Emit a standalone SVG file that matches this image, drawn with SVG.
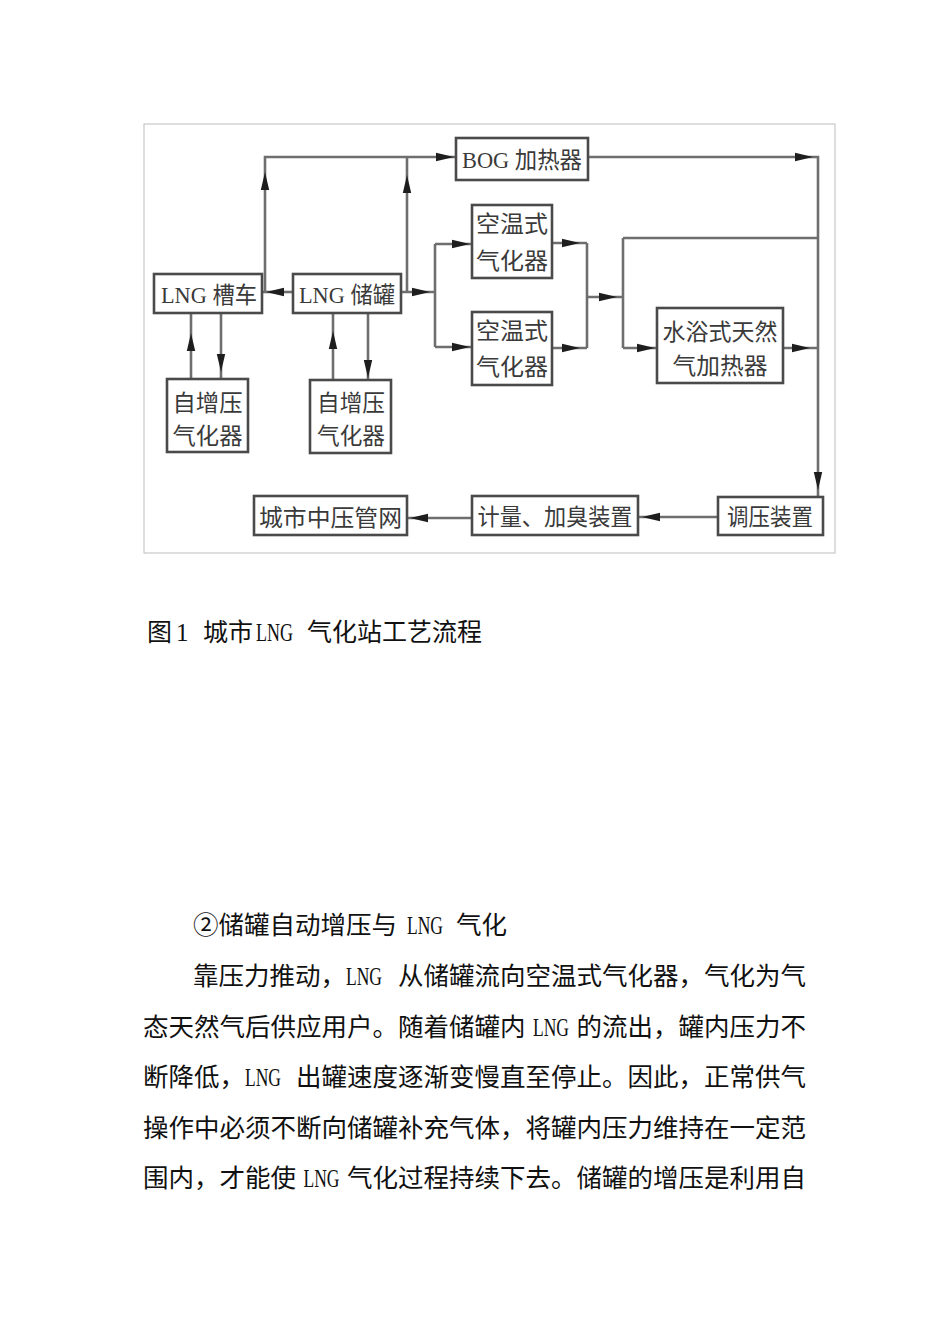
<svg xmlns="http://www.w3.org/2000/svg" xmlns:xlink="http://www.w3.org/1999/xlink" width="950" height="1344" viewBox="0 0 950 1344">
<style>
.box{fill:#fff;stroke:#4a4a4a;stroke-width:2.6}
.ln{fill:none;stroke:#6e6e6e;stroke-width:2.6}
.ah{fill:#1e1e1e}
.dt{font-family:"Liberation Serif","Noto Sans CJK SC",serif;font-size:23px;fill:#3a3a3a;text-anchor:middle}
.bt{font-family:"Noto Sans CJK SC",sans-serif;font-size:25.5px;fill:#111}
.lat{font-family:"Liberation Serif",serif;font-size:25.5px;fill:#111}
</style>
<defs>
<path id="ah" d="M0,0 L-18,-4.2 L-18,4.2 Z"/>
</defs>
<rect x="0" y="0" width="950" height="1344" fill="#fff"/>
<rect x="144" y="124" width="691" height="429" fill="none" stroke="#c8c8c8" stroke-width="1.2"/>

<g id="connectors">
<polyline class="ln" points="265,292 265,157 455,157"/>
<line class="ln" x1="407" y1="292" x2="407" y2="157"/>
<line class="ln" x1="293" y1="292" x2="262" y2="292"/>
<line class="ln" x1="401" y1="292" x2="435" y2="292"/>
<line class="ln" x1="435" y1="244" x2="435" y2="347"/>
<line class="ln" x1="435" y1="244" x2="472" y2="244"/>
<line class="ln" x1="435" y1="347" x2="472" y2="347"/>
<line class="ln" x1="552" y1="243" x2="587" y2="243"/>
<line class="ln" x1="552" y1="348" x2="587" y2="348"/>
<line class="ln" x1="587" y1="243" x2="587" y2="348"/>
<line class="ln" x1="587" y1="297" x2="623" y2="297"/>
<line class="ln" x1="623" y1="238" x2="623" y2="348"/>
<line class="ln" x1="623" y1="238" x2="818" y2="238"/>
<line class="ln" x1="623" y1="348" x2="657" y2="348"/>
<line class="ln" x1="783" y1="348" x2="818" y2="348"/>
<polyline class="ln" points="588,157 818,157 818,497"/>
<line class="ln" x1="718" y1="517" x2="638" y2="517"/>
<line class="ln" x1="472" y1="518" x2="407" y2="518"/>
<line class="ln" x1="191" y1="379" x2="191" y2="313"/>
<line class="ln" x1="221" y1="313" x2="221" y2="379"/>
<line class="ln" x1="333" y1="380" x2="333" y2="313"/>
<line class="ln" x1="368" y1="313" x2="368" y2="380"/>
<g class="ah">
<use xlink:href="#ah" transform="translate(265,172) rotate(-90)"/>
<use xlink:href="#ah" transform="translate(454,157)"/>
<use xlink:href="#ah" transform="translate(407,175) rotate(-90)"/>
<use xlink:href="#ah" transform="translate(266,292) rotate(180)"/>
<use xlink:href="#ah" transform="translate(430,292)"/>
<use xlink:href="#ah" transform="translate(470,244)"/>
<use xlink:href="#ah" transform="translate(470,347)"/>
<use xlink:href="#ah" transform="translate(580,243)"/>
<use xlink:href="#ah" transform="translate(580,348)"/>
<use xlink:href="#ah" transform="translate(617,297)"/>
<use xlink:href="#ah" transform="translate(655,348)"/>
<use xlink:href="#ah" transform="translate(810,348)"/>
<use xlink:href="#ah" transform="translate(813,157)"/>
<use xlink:href="#ah" transform="translate(818,490) rotate(90)"/>
<use xlink:href="#ah" transform="translate(642,517) rotate(180)"/>
<use xlink:href="#ah" transform="translate(410,518) rotate(180)"/>
<use xlink:href="#ah" transform="translate(191,333) rotate(-90)"/>
<use xlink:href="#ah" transform="translate(221,372) rotate(90)"/>
<use xlink:href="#ah" transform="translate(333,331) rotate(-90)"/>
<use xlink:href="#ah" transform="translate(368,378) rotate(90)"/>
</g>
</g>

<g id="lng-truck"><rect class="box" x="154" y="274" width="108" height="39"/><text class="dt" x="209" y="302.5" textLength="96" lengthAdjust="spacingAndGlyphs">LNG 槽车</text></g>
<g id="lng-tank"><rect class="box" x="293" y="274" width="108" height="39"/><text class="dt" x="347" y="302.5" textLength="96" lengthAdjust="spacingAndGlyphs">LNG 储罐</text></g>
<g id="bog-heater"><rect class="box" x="456" y="138" width="132" height="42"/><text class="dt" x="522" y="167.5" textLength="120" lengthAdjust="spacingAndGlyphs">BOG 加热器</text></g>
<g id="air-vap-1"><rect class="box" x="472" y="205" width="80" height="73"/><text class="dt" x="512" y="231.5" textLength="72" lengthAdjust="spacingAndGlyphs">空温式</text><text class="dt" x="512" y="268.5" textLength="72" lengthAdjust="spacingAndGlyphs">气化器</text></g>
<g id="air-vap-2"><rect class="box" x="472" y="312" width="80" height="73"/><text class="dt" x="512" y="338.5" textLength="72" lengthAdjust="spacingAndGlyphs">空温式</text><text class="dt" x="512" y="374.5" textLength="72" lengthAdjust="spacingAndGlyphs">气化器</text></g>
<g id="water-bath-heater"><rect class="box" x="657" y="308" width="126" height="75"/><text class="dt" x="720" y="339.5" textLength="115" lengthAdjust="spacingAndGlyphs">水浴式天然</text><text class="dt" x="720" y="373.5" textLength="95" lengthAdjust="spacingAndGlyphs">气加热器</text></g>
<g id="pressurizer-1"><rect class="box" x="167" y="379" width="81" height="73"/><text class="dt" x="207.5" y="410.5" textLength="70" lengthAdjust="spacingAndGlyphs">自增压</text><text class="dt" x="207.5" y="443.5" textLength="70" lengthAdjust="spacingAndGlyphs">气化器</text></g>
<g id="pressurizer-2"><rect class="box" x="310" y="380" width="81" height="73"/><text class="dt" x="351" y="410.5" textLength="68" lengthAdjust="spacingAndGlyphs">自增压</text><text class="dt" x="351" y="443.5" textLength="68" lengthAdjust="spacingAndGlyphs">气化器</text></g>
<g id="city-network"><rect class="box" x="254" y="496" width="153" height="39"/><text class="dt" x="330.5" y="525.5" textLength="143" lengthAdjust="spacingAndGlyphs">城市中压管网</text></g>
<g id="metering-odorizing"><rect class="box" x="472" y="496" width="166" height="39"/><text class="dt" x="555" y="525" textLength="155" lengthAdjust="spacingAndGlyphs">计量、加臭装置</text></g>
<g id="regulator"><rect class="box" x="718" y="497" width="105" height="38"/><text class="dt" x="770" y="524.5" textLength="86" lengthAdjust="spacingAndGlyphs">调压装置</text></g>

<g id="caption">
<text class="bt" font-size="25" style="font-size:25px" x="147" y="641">图</text>
<text class="lat" style="font-size:25px" x="176" y="641">1</text>
<text class="bt" style="font-size:25px" x="203" y="641" textLength="50" lengthAdjust="spacingAndGlyphs">城市</text>
<text class="lat" style="font-size:25px" x="256" y="641" textLength="37" lengthAdjust="spacingAndGlyphs">LNG</text>
<text class="bt" style="font-size:25px" x="307" y="641" textLength="175" lengthAdjust="spacingAndGlyphs">气化站工艺流程</text>
</g>

<g id="body-text">
<text class="bt" x="193" y="934">②</text>
<text class="bt" x="218.5" y="934">储罐自动增压与</text>
<text class="lat" x="407" y="934" textLength="36" lengthAdjust="spacingAndGlyphs">LNG</text>
<text class="bt" x="456" y="934">气化</text>

<text class="bt" x="193" y="985">靠压力推动，</text>
<text class="lat" x="346" y="985" textLength="36" lengthAdjust="spacingAndGlyphs">LNG</text>
<text class="bt" x="398" y="985">从储罐流向空温式气化器，气化为气</text>

<text class="bt" x="143" y="1036">态天然气后供应用户。随着储罐内</text>
<text class="lat" x="533" y="1036" textLength="36" lengthAdjust="spacingAndGlyphs">LNG</text>
<text class="bt" x="576.5" y="1036">的流出，罐内压力不</text>

<text class="bt" x="143" y="1086">断降低，</text>
<text class="lat" x="245" y="1086" textLength="36" lengthAdjust="spacingAndGlyphs">LNG</text>
<text class="bt" x="296" y="1086">出罐速度逐渐变慢直至停止。因此，正常供气</text>

<text class="bt" x="143" y="1137">操作中必须不断向储罐补充气体，将罐内压力维持在一定范</text>

<text class="bt" x="143" y="1187">围内，才能使</text>
<text class="lat" x="303.5" y="1187" textLength="36" lengthAdjust="spacingAndGlyphs">LNG</text>
<text class="bt" x="347" y="1187">气化过程持续下去。储罐的增压是利用自</text>
</g>
</svg>
